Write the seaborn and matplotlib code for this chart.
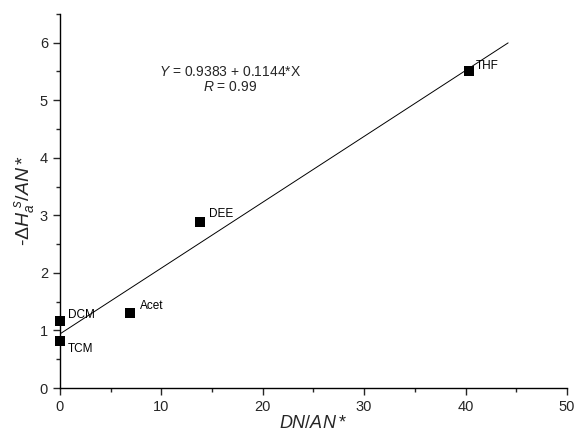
import matplotlib
matplotlib.use("Agg")
import matplotlib.pyplot as plt
import seaborn as sns
import numpy as np
import pandas as pd
from matplotlib.ticker import MultipleLocator

solvents = ["DCM", "TCM", "Acet", "DEE", "THF"]
dn_an = [0.0, 0.0, 6.9, 13.8, 40.3]
dh_an = [1.17, 0.82, 1.30, 2.89, 5.50]
intercept = 0.9383
slope = 0.1144
fit_x_range = [0.0, 44.2]

sns.set_theme(style="ticks")
plt.rcParams["font.family"] = ["Liberation Sans", "DejaVu Sans"]
plt.rcParams["mathtext.fontset"] = "custom"
plt.rcParams["mathtext.rm"] = "Liberation Sans"
plt.rcParams["mathtext.it"] = "Liberation Sans:italic"

df = pd.DataFrame({"solvent": solvents, "x": dn_an, "y": dh_an})

fig = plt.figure(figsize=(5.75, 4.45), dpi=100)
ax = fig.add_axes([0.104, 0.128, 0.882, 0.841])

fx = np.array(fit_x_range)
sns.lineplot(x=fx, y=intercept + slope * fx, ax=ax, color="black", lw=0.7)
sns.scatterplot(data=df, x="x", y="y", ax=ax, marker="s", s=45,
                color="black", edgecolor="black", linewidth=0, zorder=3)

offsets = {"DCM": (6, 2), "TCM": (6, -8), "Acet": (7, 3), "DEE": (7, 3), "THF": (5, 2)}
for name, xv, yv in zip(solvents, dn_an, dh_an):
    dx, dy = offsets[name]
    ax.annotate(name, (xv, yv), xytext=(dx, dy), textcoords="offset points",
                fontsize=8.5, color="black")

ax.text(0.335, 0.845, r"$Y$ = 0.9383 + 0.1144*X", transform=ax.transAxes,
        ha="center", va="center", fontsize=10)
ax.text(0.335, 0.805, r"$R$ = 0.99", transform=ax.transAxes,
        ha="center", va="center", fontsize=10)

ax.set_xlim(0, 50)
ax.set_ylim(0, 6.5)
ax.xaxis.set_major_locator(MultipleLocator(10))
ax.xaxis.set_minor_locator(MultipleLocator(5))
ax.yaxis.set_major_locator(MultipleLocator(1))
ax.yaxis.set_minor_locator(MultipleLocator(0.5))
ax.tick_params(which="major", direction="out", length=5, width=1, labelsize=10.5)
ax.tick_params(which="minor", direction="out", length=3, width=1)
for sp in ["top", "right"]:
    ax.spines[sp].set_visible(False)
for sp in ["left", "bottom"]:
    ax.spines[sp].set_linewidth(1)
    ax.spines[sp].set_color("black")

for coll in ax.collections:
    coll.set_clip_on(False)

ax.set_xlabel(r"$DN/AN*$", fontsize=13, labelpad=1)
ax.set_ylabel(r"-$\Delta H_a^{\ s}/AN*$", fontsize=14, labelpad=2)

fig.savefig("out.png", dpi=100)
